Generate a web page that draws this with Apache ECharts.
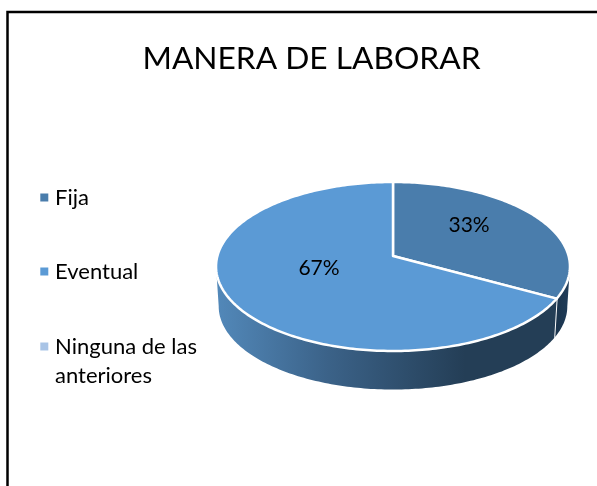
<!DOCTYPE html>
<html>
<head>
<meta charset="utf-8">
<style>
  html, body { margin: 0; padding: 0; background: #fff; }
  #main { width: 597px; height: 486px; }
</style>
<script src="https://cdn.jsdelivr.net/npm/echarts@6/dist/echarts.min.js"></script>
</head>
<body>
<div id="main"></div>
<script>
var categories = ['Fija', 'Eventual', 'Ninguna de las anteriores'];
var values = [33, 67, 0];
var titleText = 'MANERA DE LABORAR';

var colors = ['#4a7dac', '#5b9ad5', '#a9c4e6'];
var labelRadius = [0.52, 0.475, 0.5];
var fontName = 'Lato';
var chart = echarts.init(document.getElementById('main'));

var total = values.reduce(function (a, b) { return a + b; }, 0);

// pie disc seen in perspective: apex is not the middle of the ellipse
var apexX = 393, apexY = 256;
var discA = 175.6, discB = 83.2, tilt = 0.124;
var depth = 40, bottomScale = 0.985;
// only this part of the side wall faces the viewer (degrees clockwise from top)
var wallFrom = 97, wallTo = 263;

function rimPoint(deg, r, dy, scale) {
  var t = deg * Math.PI / 180;
  var u = Math.sin(t) * r, v = -Math.cos(t) * r;
  var d = 1 - tilt * v;
  return [apexX + scale * discA * u / d, apexY + dy + scale * discB * v / d];
}

function arcPoints(from, to, dy, scale) {
  var pts = [];
  var steps = Math.max(2, Math.ceil(Math.abs(to - from)));
  for (var i = 0; i <= steps; i++) {
    pts.push(rimPoint(from + (to - from) * i / steps, 1, dy, scale));
  }
  return pts;
}

function wallFill(index) {
  if (index === 0) {
    return new echarts.graphic.LinearGradient(555, 0, 570, 0, [
      { offset: 0, color: '#1b344c' },
      { offset: 1, color: '#1f3c59' }
    ], true);
  }
  return new echarts.graphic.LinearGradient(217, 0, 465, 0, [
    { offset: 0, color: '#5288b9' },
    { offset: 0.45, color: '#3b6288' },
    { offset: 1, color: '#243e56' }
  ], true);
}

function renderSlice(params, api) {
  var index = params.seriesIndex;
  var value = api.value(0);
  if (!value) {
    return;
  }
  var before = 0;
  for (var i = 0; i < index; i++) {
    before += values[i];
  }
  var start = before / total * 360;
  var end = (before + value) / total * 360;
  var children = [];

  var wallStart = Math.max(start, wallFrom);
  var wallEnd = Math.min(end, wallTo);
  if (wallEnd > wallStart) {
    var upper = arcPoints(wallStart, wallEnd, 0, 1);
    var lower = arcPoints(wallStart, wallEnd, depth, bottomScale).reverse();
    children.push({
      type: 'polygon',
      shape: { points: upper.concat(lower) },
      style: { fill: wallFill(index) }
    });
  }

  // top face
  var facePts = [[apexX, apexY]].concat(arcPoints(start, end, 0, 1));
  children.push({
    type: 'polygon',
    shape: { points: facePts },
    style: { fill: api.visual('color'), stroke: '#fff', lineWidth: 2.5, lineJoin: 'round' }
  });

  // white divider down the wall where the slice ends
  if (end > wallFrom && end < wallTo) {
    children.push({
      type: 'line',
      shape: {
        x1: rimPoint(end, 1, 0, 1)[0], y1: rimPoint(end, 1, 0, 1)[1],
        x2: rimPoint(end, 1, depth, bottomScale)[0], y2: rimPoint(end, 1, depth, bottomScale)[1]
      },
      style: { stroke: '#fff', lineWidth: 2 }
    });
  }

  var mid = rimPoint((start + end) / 2, labelRadius[index], -9, 1);
  children.push({
    type: 'text',
    z2: 10,
    style: {
      text: Math.round(value / total * 100) + '%',
      x: mid[0],
      y: mid[1],
      align: 'center',
      verticalAlign: 'middle',
      fontSize: 21,
      fontFamily: fontName,
      fill: '#000'
    }
  });
  return { type: 'group', children: children };
}

var series = categories.map(function (name, i) {
  return {
    name: name,
    type: 'custom',
    coordinateSystem: 'none',
    renderItem: renderSlice,
    itemStyle: { color: colors[i] },
    silent: true,
    data: [[values[i]]]
  };
});

// wide item with a square path keeps the larger gap before the text
var legendIcon = 'path://M0 0h8v8h-8z';

var option = {
  animation: false,
  backgroundColor: '#fff',
  title: {
    text: titleText,
    left: 306.5,
    top: 38,
    textAlign: 'center',
    textStyle: { fontSize: 31.7, fontWeight: 'normal', fontFamily: fontName, color: '#000' }
  },
  legend: [{
    orient: 'vertical',
    left: 40.3,
    top: 186.5,
    padding: 0,
    icon: legendIcon,
    itemWidth: 11.5,
    itemHeight: 8,
    itemGap: 52,
    selectedMode: false,
    textStyle: { fontSize: 22, fontFamily: fontName, color: '#000' },
    data: categories.slice(0, 2)
  }, {
    orient: 'vertical',
    left: 40.3,
    top: 303,
    padding: 0,
    icon: legendIcon,
    itemWidth: 11.5,
    itemHeight: 8,
    selectedMode: false,
    // empty first line keeps the marker beside the first line of text
    formatter: function (name) {
      return '\n' + name.replace('de las ', 'de las\n');
    },
    textStyle: { fontSize: 22, fontFamily: fontName, color: '#000', lineHeight: 29 },
    data: categories.slice(2)
  }],
  graphic: [{
    type: 'polyline',
    silent: true,
    shape: { points: [[7.5, 486], [7.5, 12], [597, 12]] },
    style: { stroke: '#000', lineWidth: 2.5, fill: null }
  }],
  series: series
};

chart.setOption(option);
</script>
</body>
</html>
